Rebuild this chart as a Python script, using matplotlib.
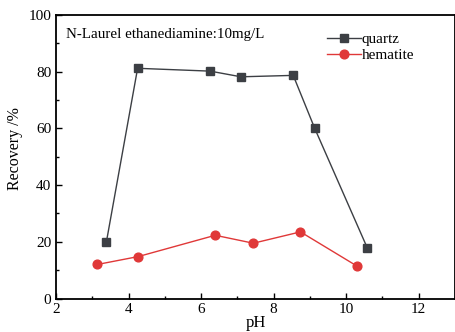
import matplotlib.pyplot as plt
from matplotlib.ticker import MultipleLocator

# Données
ph_quartz = [3.39, 4.25, 6.25, 7.10, 8.54, 9.13, 10.58]
rec_quartz = [20.0, 81.2, 80.2, 78.2, 78.7, 60.1, 17.9]
ph_hematite = [3.14, 4.27, 6.39, 7.44, 8.74, 10.29]
rec_hematite = [12.0, 14.8, 22.3, 19.5, 23.5, 11.5]

plt.rcParams['font.family'] = ['Liberation Serif', 'DejaVu Serif']

fig = plt.figure(figsize=(4.56, 3.32), dpi=100)
ax = fig.add_axes([56 / 456, 1 - 298.5 / 332, (455 - 56) / 456, (298.5 - 15) / 332])

ax.plot(ph_quartz, rec_quartz, color='#3c3f44', marker='s', markersize=5.3,
        linewidth=1.0, label='quartz')
ax.plot(ph_hematite, rec_hematite, color='#e03838', marker='o', markersize=6.3,
        linewidth=1.0, label='hematite')

ax.set_xlim(2, 13)
ax.set_ylim(0, 100)
ax.xaxis.set_major_locator(MultipleLocator(2))
ax.xaxis.set_minor_locator(MultipleLocator(1))
ax.yaxis.set_major_locator(MultipleLocator(20))
ax.yaxis.set_minor_locator(MultipleLocator(10))
ax.tick_params(which='both', direction='in', labelsize=11, width=1.0)
ax.tick_params(which='major', length=4)
ax.tick_params(which='minor', length=2.5)
for s in ax.spines.values():
    s.set_linewidth(1.3)

ax.set_xlabel('pH', fontsize=12, labelpad=-1)
ax.set_ylabel('Recovery /%', fontsize=11.5)
ax.yaxis.set_label_coords(-0.082, 0.53)
ax.text(0.025, 0.955, 'N-Laurel ethanediamine:10mg/L', transform=ax.transAxes,
        fontsize=10.8, va='top', ha='left')
ax.legend(loc='upper right', bbox_to_anchor=(0.92, 0.97), frameon=False,
          fontsize=11, handlelength=2.2, handletextpad=0.05, labelspacing=0.15,
          borderaxespad=0.2)

fig.savefig('out.png', dpi=100)
plt.close()
